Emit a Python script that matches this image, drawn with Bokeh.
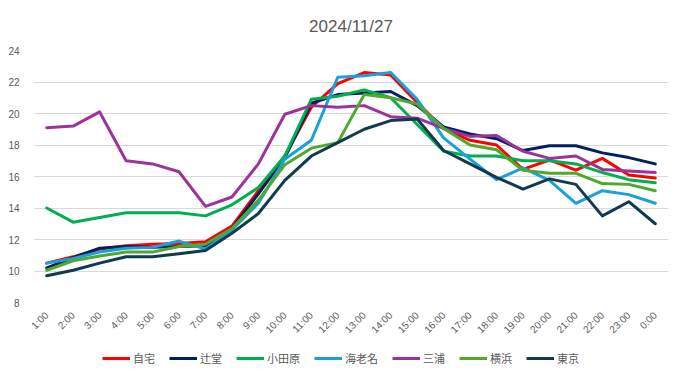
from math import pi
from bokeh.plotting import figure
from bokeh.layouts import column
from bokeh.models import (FactorRange, Range1d, Legend, LegendItem, FixedTicker, Title)
from bokeh.embed import file_html
from bokeh.resources import INLINE

hours = ["1:00", "2:00", "3:00", "4:00", "5:00", "6:00", "7:00", "8:00", "9:00", "10:00",
         "11:00", "12:00", "13:00", "14:00", "15:00", "16:00", "17:00", "18:00", "19:00",
         "20:00", "21:00", "22:00", "23:00", "0:00"]

jitaku = [10.5, 10.9, 11.4, 11.6, 11.7, 11.75, 11.85, 12.85, 15.1, 17.3, 20.4, 21.9,
          22.6, 22.45, 20.7, 19.05, 18.3, 18.0, 16.45, 17.05, 16.4, 17.15, 16.1, 15.9]
tsujido = [10.2, 10.85, 11.45, 11.55, 11.5, 11.55, 11.6, 12.7, 14.9, 17.2, 20.65, 21.2,
           21.3, 21.4, 20.5, 19.15, 18.7, 18.4, 17.65, 17.95, 17.95, 17.5, 17.2, 16.8]
odawara = [14.0, 13.1, 13.4, 13.7, 13.7, 13.7, 13.5, 14.2, 15.3, 17.3, 20.9, 21.1,
           21.5, 21.0, 19.3, 17.6, 17.3, 17.3, 17.0, 17.0, 16.8, 16.25, 15.8, 15.6]
ebina = [10.5, 10.8, 11.2, 11.45, 11.5, 11.9, 11.4, 12.6, 14.3, 17.1, 18.3, 22.3,
         22.4, 22.6, 20.9, 18.45, 17.1, 15.8, 16.55, 15.75, 14.3, 15.1, 14.85, 14.3]
miura = [19.1, 19.2, 20.1, 17.0, 16.8, 16.3, 14.1, 14.7, 16.8, 19.95, 20.5, 20.4,
         20.5, 19.8, 19.7, 19.05, 18.55, 18.6, 17.6, 17.15, 17.3, 16.45, 16.35, 16.25]
yokohama = [10.05, 10.65, 10.95, 11.2, 11.2, 11.55, 11.7, 12.7, 14.5, 16.75, 17.8, 18.15,
            21.2, 21.0, 20.6, 19.05, 18.0, 17.7, 16.4, 16.2, 16.2, 15.55, 15.5, 15.1]
tokyo = [9.7, 10.05, 10.5, 10.9, 10.9, 11.1, 11.3, 12.4, 13.65, 15.75, 17.3, 18.15,
         19.0, 19.55, 19.65, 17.65, 16.8, 15.95, 15.2, 15.85, 15.5, 13.5, 14.4, 13.0]

names = ["自宅", "辻堂", "小田原", "海老名", "三浦", "横浜", "東京"]
series = [jitaku, tsujido, odawara, ebina, miura, yokohama, tokyo]
colors = ["#FF0000", "#002060", "#00B050", "#1AA0DC", "#9E329C", "#50A82E", "#113A4F"]

y_ticks = [8, 10, 12, 14, 16, 18, 20, 22, 24]

GRAY = "#595959"
GRID = "#D9D9D9"
FONT = "Liberation Sans"

p = figure(x_range=FactorRange(*hours, range_padding=0), y_range=Range1d(8, 24),
           width=681, height=346,
           min_border_left=33, min_border_right=13, min_border_top=49, min_border_bottom=44,
           output_backend="svg", toolbar_location=None)

p.add_layout(Title(text="2024/11/27", align="center", text_font_size="17px",
                   text_font_style="normal", text_color=GRAY,
                   text_font=FONT, standoff=29), "above")

p.outline_line_color = None
p.background_fill_color = "white"
p.border_fill_color = "white"

p.xgrid.grid_line_color = None
p.ygrid.grid_line_color = GRID
p.ygrid.grid_line_width = 1

p.yaxis.ticker = FixedTicker(ticks=y_ticks)
p.yaxis.axis_line_color = None
p.yaxis.major_tick_line_color = None
p.yaxis.minor_tick_line_color = None
p.yaxis.major_label_text_color = GRAY
p.yaxis.major_label_text_font_size = "10px"
p.yaxis.major_label_text_font = FONT
p.yaxis.major_label_standoff = 8

p.xaxis.axis_line_color = None
p.xaxis.major_tick_line_color = None
p.xaxis.minor_tick_line_color = None
p.xaxis.major_label_text_color = GRAY
p.xaxis.major_label_text_font_size = "10px"
p.xaxis.major_label_text_font = FONT
p.xaxis.major_label_orientation = pi / 4
p.xaxis.major_label_standoff = 5

for vals, col in zip(series, colors):
    p.line(x=hours, y=vals, line_color=col, line_width=3, line_join="round", line_cap="round")

# legend strip below the chart
p2 = figure(x_range=Range1d(0, 1), y_range=Range1d(0, 1), width=681, height=33,
            min_border_left=0, min_border_right=0, min_border_top=0, min_border_bottom=0,
            output_backend="svg", toolbar_location=None)
p2.axis.visible = False
p2.grid.visible = False
p2.outline_line_color = None
p2.border_fill_color = "white"

items = []
for name, col in zip(names, colors):
    r = p2.line(x=[0, 1], y=[-5, -5], line_color=col, line_width=3)
    items.append(LegendItem(label=name, renderers=[r]))

legend = Legend(items=items, orientation="horizontal", location=(69, 13),
                label_text_font="Noto Sans CJK JP", label_text_font_size="11px",
                label_text_color=GRAY, glyph_width=28, glyph_height=14, label_height=14,
                label_standoff=3, spacing=14, padding=0, margin=0,
                border_line_color=None, background_fill_alpha=0)
p2.add_layout(legend, "center")

layout = column(p, p2, spacing=0)
open("out.html", "w").write(file_html(layout, INLINE))
